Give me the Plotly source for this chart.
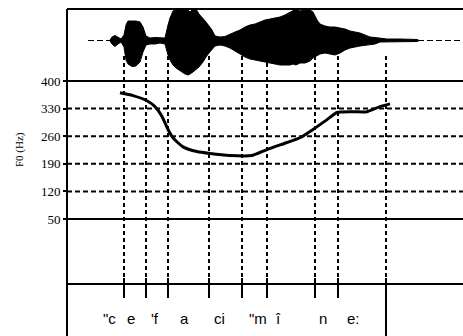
import plotly.graph_objects as go

# ---------------- data ----------------
# Waveform envelope (time units, upper / lower amplitude, arbitrary units)
wave_t = [43, 45, 48, 51, 54, 57, 59, 61, 65, 69, 73, 76, 79, 83, 88, 93, 98, 101, 103, 106, 109, 113,
          118, 121, 123, 126, 129, 132, 136, 139, 142, 145, 148, 153, 158, 163, 168, 173, 178, 183,
          188, 193, 198, 203, 208, 213, 218, 223, 226, 229, 233, 238, 243, 246, 250, 253, 258, 263,
          268, 273, 278, 283, 288, 293, 298, 303, 308, 313, 320, 333, 351]
wave_up = [0.5, 3.5, 5, 3.5, 1.5, 5.5, 15.5, 19.5, 19.5, 19.5, 18.5, 13.5, 4.5, 2.5, 3, 2.5, 2.5,
           15.5, 22.5, 29.5, 31.5, 31.5, 31.5, 30.5, 28.5, 31.5, 31.5, 26.5, 22.5, 18.5, 14.5, 10.5,
           4.5, 3.5, 4, 6.5, 8.5, 10.5, 13.5, 15.5, 16.5, 18.5, 20.5, 21.5, 22.5, 23.5, 25.5, 28.5,
           30.5, 31.5, 29.5, 30.5, 30.5, 28.5, 20.5, 16.5, 14.5, 13.5, 13.5, 12.5, 11.5, 9.5, 8.5,
           7.5, 5.5, 3.5, 3, 2.5, 1.5, 1.5, 1]
wave_lo = [-0.5, -3.5, -6, -3.5, -1.5, -6.5, -19.5, -23.5, -26, -25.5, -21.5, -11.5, -4.5, -3.5,
           -3.5, -2.5, -3.5, -14.5, -19.5, -24.5, -27.5, -30.5, -33.5, -34.5, -33.5, -31.5, -29.5,
           -26.5, -21.5, -16.5, -12.5, -8.5, -5.5, -4.5, -5.5, -7.5, -10.5, -13.5, -16.5, -18.5,
           -19.5, -20.5, -21.5, -22.5, -23.5, -24.5, -24.5, -24.5, -23.5, -24.5, -22.5, -22.5, -20.5,
           -17.5, -15.5, -13.5, -12.5, -13.5, -14.5, -12.5, -9.5, -7.5, -6.5, -5.5, -4.5, -4, -3.5,
           -1.5, -1.5, -1.5, -1]
# quiet (silent) stretches of the signal
quiet_t1 = [21, 43]
quiet_t2 = [351, 396]

# F0 contour (time units, Hz)
f0_t = [53, 66, 80, 88, 95, 101, 106, 116, 130, 143, 163, 185, 200, 220, 233, 246, 260, 270, 286,
        300, 313, 323]
f0_hz = [370, 363, 350, 335, 310, 277, 256, 233, 221, 216, 211, 211, 226, 244, 256, 277, 302, 320,
         322, 322, 335, 342]

# segment boundaries (time units)
boundaries = [57, 79, 101, 142, 175, 200, 248, 271, 319]

# segment labels
seg_labels = ['"c', 'e', "'f", 'a', 'ci', '"m', 'î', 'n', 'e:']
seg_label_t = [42, 64, 88, 117, 152.5, 191, 211, 256, 286]

# F0 axis ticks
f0_ticks = [400, 330, 260, 190, 120, 50]
f0_solid = [400, 50]
f0_dashed = [330, 260, 190, 120]

# ---------------- layout helpers ----------------
W, H = 463, 336
ML, MT = 67, 9


def py(ypx):
    """pixel row -> paper fraction"""
    return (H - ypx) / (H - MT)


fig = go.Figure()

# waveform polygon
fig.add_trace(go.Scatter(
    x=wave_t + wave_t[::-1], y=wave_up + wave_lo[::-1],
    fill="toself", fillcolor="black", line=dict(color="black", width=1),
    mode="lines", xaxis="x", yaxis="y2", hoverinfo="skip", showlegend=False))
for qt in (quiet_t1, quiet_t2):
    fig.add_trace(go.Scatter(x=qt, y=[0, 0], mode="lines",
                             line=dict(color="black", width=1, dash="6px,3px"),
                             xaxis="x", yaxis="y2", showlegend=False, hoverinfo="skip"))

# F0 contour
fig.add_trace(go.Scatter(x=f0_t, y=f0_hz, mode="lines",
                         line=dict(color="black", width=3, shape="spline", smoothing=0.6),
                         xaxis="x", yaxis="y", showlegend=False))

shapes = []
# horizontal lines of F0 panel
for v in f0_solid:
    shapes.append(dict(type="line", xref="paper", yref="y", x0=0, x1=1, y0=v, y1=v,
                       line=dict(color="black", width=2), layer="below"))
for v in f0_dashed:
    shapes.append(dict(type="line", xref="paper", yref="y", x0=0, x1=1, y0=v, y1=v,
                       line=dict(color="black", width=2, dash="5px,3px"), layer="below"))
# top border, label-panel line
for ypx in (9, 284):
    shapes.append(dict(type="line", xref="paper", yref="paper", x0=0, x1=1,
                       y0=py(ypx), y1=py(ypx), line=dict(color="black", width=2)))
# left axis line
shapes.append(dict(type="line", xref="paper", yref="paper", x0=0, x1=0, y0=0, y1=1,
                   line=dict(color="black", width=2)))
# boundary lines
for i, b in enumerate(boundaries):
    shapes.append(dict(type="line", xref="x", yref="paper", x0=b, x1=b,
                       y0=py(284), y1=py(56),
                       line=dict(color="black", width=2, dash="4px,3px"), layer="below"))
    bottom = 336 if i == len(boundaries) - 1 else 298
    shapes.append(dict(type="line", xref="x", yref="paper", x0=b, x1=b,
                       y0=py(bottom), y1=py(278), line=dict(color="black", width=2)))

annotations = []
for lab, t in zip(seg_labels, seg_label_t):
    annotations.append(dict(x=t, y=py(318), xref="x", yref="paper", text=lab, showarrow=False,
                            font=dict(family="Liberation Sans", size=15, color="black"),
                            xanchor="center", yanchor="middle"))
annotations.append(dict(x=(19 - ML) / (W - ML), y=py(150), xref="paper", yref="paper",
                        text="F0 (Hz)", textangle=-90, showarrow=False,
                        font=dict(family="Liberation Serif", size=11, color="black"),
                        xanchor="center", yanchor="middle"))

hz_per_px = 70 / 27.6
fig.update_layout(
    width=W, height=H,
    margin=dict(l=ML, r=0, t=MT, b=0),
    paper_bgcolor="white", plot_bgcolor="white",
    showlegend=False,
    xaxis=dict(range=[0, W - ML], visible=False, fixedrange=True),
    yaxis=dict(domain=[py(284), py(80)],
               range=[50 - (284 - 219) * hz_per_px, 400 + 1 * hz_per_px],
               tickvals=f0_ticks, ticktext=[str(v) for v in f0_ticks],
               ticks="outside", ticklen=3, tickwidth=2, tickcolor="black",
               showgrid=False, zeroline=False, showline=False,
               tickfont=dict(family="Liberation Serif", size=13, color="black")),
    yaxis2=dict(domain=[py(80), 1], range=[-39.5, 31.5], visible=False, anchor="x"),
    shapes=shapes, annotations=annotations,
)

fig.write_html("out.html", config={"displayModeBar": False},
               post_script="document.body.style.margin='0px';document.body.style.overflow='hidden';")
